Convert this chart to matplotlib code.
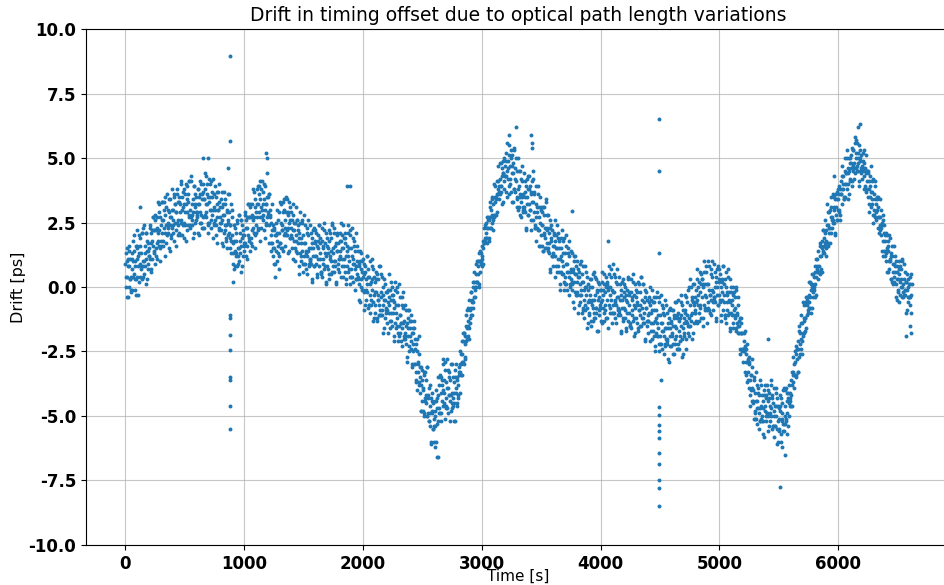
import numpy as np
import matplotlib
matplotlib.use("Agg")
import matplotlib.pyplot as plt

plt.rcParams["axes.unicode_minus"] = False

# Drift readings [ps].
# Series A: one reading every 5 s starting at t = 0 s.
# Series B: one reading every 5 s starting at t = 2.5 s.
SAMPLE_STEP_S = 5.0
OFFSET_B_S = 2.5

drift_a_0000_1000 = [
    0.9, 0.0, 1.5, 0.4, 1.1, -0.4, 0.8, 1.4, 0.3, 0.4,
    -0.1, 1.1, 0.7, 1.8, 0.5, 1.4, -0.1, 1.0, 0.3, 1.6,
    1.5, 0.8, -0.3, 1.3, 1.9, 0.4, 1.3, 0.8, 2.1, 0.4,
    0.8, 2.4, 0.5, 1.3, 1.1, 2.1, 0.3, 1.8, 1.4, 0.9,
    1.2, 1.1, 2.3, 1.7, 0.6, 2.2, 1.6, 2.7, 1.3, 2.2,
    2.8, 1.5, 2.2, 1.1, 2.7, 1.8, 3.2, 2.2, 2.7, 1.5,
    1.6, 3.3, 2.1, 2.6, 1.8, 3.3, 2.8, 1.2, 2.4, 3.1,
    2.0, 2.5, 3.0, 1.5, 3.4, 2.4, 2.7, 1.9, 3.8, 2.3,
    3.0, 2.1, 3.6, 2.5, 3.2, 1.6, 2.9, 3.6, 2.4, 2.6,
    2.1, 3.3, 2.9, 4.0, 2.6, 3.5, 2.0, 3.1, 2.5, 3.8,
    3.6, 2.9, 1.8, 3.4, 3.9, 2.4, 3.3, 2.8, 4.1, 2.4,
    2.7, 4.3, 2.4, 3.2, 2.9, 3.9, 2.1, 3.6, 3.1, 2.6,
    2.8, 2.7, 3.8, 3.2, 2.0, 3.6, 2.9, 4.0, 2.5, 3.4,
    4.0, 2.7, 3.4, 2.3, 3.8, 2.9, 4.3, 3.2, 3.6, 2.4,
    2.5, 4.2, 3.0, 3.5, 2.6, 4.1, 3.5, 1.9, 3.0, 3.6,
    2.5, 3.0, 3.5, 2.0, 3.7, 2.7, 3.0, 2.2, 4.0, 2.5,
    3.1, 2.2, 3.7, 2.6, 3.2, 1.6, 2.8, 3.4, 2.2, 2.4,
    1.8, 3.0, 2.5, 3.6, 2.1, 2.9, 1.5, 2.4, 1.8, 3.0,
    2.0, 1.3, 0.2, 1.8, 2.3, 0.8, 1.8, 1.3, 2.5, 0.9,
    1.2, 2.8, 1.0, 1.8, 1.6, 2.6, 0.8, 2.4, 2.0, 1.4,
]

drift_a_1000_2000 = [
    1.7, 1.7, 2.8, 2.3, 1.1, 2.7, 2.0, 3.2, 1.8, 2.7,
    3.2, 1.9, 2.7, 1.6, 3.2, 2.3, 3.7, 2.7, 3.1, 2.0,
    2.1, 3.8, 2.7, 3.2, 2.3, 3.9, 3.4, 1.8, 3.1, 3.8,
    2.7, 3.2, 3.7, 2.2, 4.0, 3.0, 3.2, 2.4, 4.4, 2.7,
    3.5, 2.4, 3.6, 2.7, 2.8, 1.4, 2.0, 2.2, 1.5, 1.2,
    2.2, 1.5, 0.4, 2.0, 2.5, 1.0, 2.1, 1.6, 2.9, 1.2,
    1.7, 3.3, 1.5, 2.4, 2.2, 3.3, 1.4, 3.0, 2.6, 2.1,
    2.9, 2.0, 3.4, 2.3, 2.9, 1.4, 2.5, 3.1, 1.9, 2.0,
    1.5, 2.6, 2.2, 3.2, 1.8, 2.5, 1.0, 2.0, 1.4, 2.6,
    2.4, 1.7, 0.5, 2.1, 2.5, 1.0, 1.9, 1.4, 2.6, 0.9,
    1.2, 2.8, 0.9, 1.7, 1.3, 2.3, 0.5, 2.0, 1.4, 0.9,
    1.1, 1.0, 2.1, 1.5, 0.3, 1.9, 1.2, 2.3, 0.8, 1.7,
    2.2, 0.9, 1.6, 0.5, 2.0, 1.1, 2.4, 1.3, 1.7, 0.5,
    0.6, 2.3, 1.1, 1.6, 0.7, 2.2, 1.7, 0.1, 1.2, 1.9,
    0.8, 1.3, 1.8, 0.3, 2.1, 1.1, 1.4, 0.5, 2.5, 0.8,
    1.5, 0.6, 2.1, 1.0, 1.7, 0.2, 1.4, 2.0, 0.9, 1.1,
    0.6, 1.8, 1.4, 2.5, 1.1, 2.0, 0.4, 1.5, 0.8, 2.1,
    1.9, 1.2, 0.1, 1.6, 2.1, 0.6, 1.5, 1.0, 2.2, 0.4,
    0.7, 2.3, 0.4, 1.1, 0.9, 1.8, -0.1, 1.4, 0.8, 0.3,
    0.5, 0.4, 1.4, 0.8, -0.5, 1.0, 0.3, 1.3, -0.1, 0.6,
]

drift_a_2000_3000 = [
    1.1, -0.2, 0.5, -0.7, 0.8, -0.1, 1.2, 0.1, 0.4, -0.8,
    -0.7, 1.0, -0.3, 0.2, -0.7, 0.8, 0.3, -1.3, -0.3, 0.4,
    -0.7, -0.2, 0.3, -1.3, 0.5, -0.5, -0.3, -1.1, 0.8, -0.9,
    -0.2, -1.1, 0.4, -0.7, 0.0, -1.6, -0.5, 0.1, -1.0, -0.9,
    -1.4, -0.2, -0.6, 0.5, -1.0, -0.1, -1.6, -0.5, -1.3, 0.0,
    -0.3, -1.0, -2.1, -0.6, -0.1, -1.6, -0.7, -1.2, 0.0, -1.8,
    -1.5, 0.1, -1.8, -1.1, -1.4, -0.4, -2.3, -0.8, -1.4, -1.9,
    -1.8, -1.9, -0.9, -1.5, -2.7, -1.2, -1.9, -0.9, -2.5, -1.6,
    -1.1, -2.4, -1.8, -3.0, -1.6, -2.5, -1.3, -2.4, -2.0, -3.3,
    -3.7, -2.0, -3.3, -2.9, -3.8, -2.6, -3.1, -4.8, -3.8, -3.2,
    -4.4, -3.9, -3.4, -4.9, -3.3, -4.4, -4.2, -5.0, -3.1, -4.9,
    -4.3, -5.2, -3.8, -4.9, -4.3, -6.0, -4.9, -4.4, -5.5, -5.4,
    -6.0, -4.8, -5.0, -4.0, -5.3, -4.3, -6.6, -4.2, -4.9, -3.5,
    -3.4, -4.1, -5.2, -3.6, -3.0, -4.6, -3.6, -4.1, -2.9, -4.6,
    -4.3, -2.8, -4.7, -3.9, -4.2, -3.3, -5.2, -3.6, -4.2, -4.7,
    -4.5, -4.6, -3.5, -4.1, -5.2, -3.5, -4.1, -3.0, -4.5, -3.5,
    -4.3, -3.3, -3.4, -2.5, -3.3, -2.6, -3.4, -2.6, -2.9, -1.8,
    -1.8, -2.2, -2.8, -1.5, -1.1, -2.0, -1.3, -1.5, -0.5, -1.6,
    -1.2, -0.2, -1.1, -0.5, -0.6, 0.2, -0.8, 0.2, 0.0, -0.1,
    0.5, 0.0, 1.0, 0.5, 1.0, 0.1, 1.0, 1.4, 0.9, 1.0,
]

drift_a_3000_4000 = [
    0.8, 1.6, 1.5, 2.3, 1.7, 2.4, 1.9, 2.1, 1.9, 2.7,
    2.7, 2.3, 1.8, 2.7, 3.1, 2.3, 3.0, 2.8, 3.5, 2.6,
    2.8, 4.0, 2.8, 3.5, 3.5, 4.1, 2.9, 4.1, 3.8, 3.4,
    4.2, 3.6, 4.8, 3.9, 4.6, 3.3, 4.4, 5.0, 4.1, 4.3,
    3.7, 4.9, 4.5, 5.6, 4.2, 5.1, 3.6, 4.7, 4.0, 5.3,
    5.1, 4.4, 3.3, 4.8, 5.3, 3.8, 4.6, 4.1, 6.2, 3.4,
    3.5, 5.0, 3.1, 3.9, 3.6, 4.5, 2.7, 4.1, 3.5, 3.0,
    3.1, 3.0, 4.1, 3.5, 2.3, 3.9, 3.2, 4.3, 2.8, 3.8,
    4.3, 3.0, 3.7, 2.6, 4.1, 5.6, 4.5, 3.3, 3.6, 2.3,
    2.3, 3.9, 2.7, 3.1, 2.2, 3.6, 3.1, 1.6, 2.5, 3.1,
    2.0, 2.4, 2.9, 1.4, 3.1, 2.0, 2.3, 1.5, 3.4, 1.7,
    2.3, 1.4, 2.8, 1.7, 2.3, 0.7, 1.8, 2.4, 1.2, 1.3,
    0.8, 2.0, 1.6, 2.6, 1.2, 2.0, 0.6, 1.5, 0.8, 2.1,
    1.8, 1.1, -0.1, 1.5, 1.9, 0.5, 1.3, 0.8, 1.9, 0.2,
    0.4, 2.0, 0.1, 0.9, 0.6, 1.5, -0.3, 1.2, 0.6, 0.1,
    0.3, 0.2, 1.3, 0.6, -0.6, 1.0, 0.2, 1.2, -0.3, 0.5,
    1.0, -0.3, 0.4, -0.7, 0.6, -0.3, 0.9, -0.1, 0.2, -1.0,
    -0.9, 0.8, -0.5, 0.0, -0.9, 0.6, 0.0, -1.6, -0.6, 0.1,
    -1.0, -0.5, 0.0, -1.5, 0.3, -0.7, -0.5, -1.3, 0.6, -1.0,
    -0.3, -1.2, 0.3, -0.8, -0.1, -1.7, -0.5, 0.1, -0.9, -0.8,
]

drift_a_4000_5000 = [
    -1.3, -0.1, -0.5, 0.6, -0.8, 0.1, -1.3, -0.2, -0.9, 0.4,
    0.2, -0.5, -1.6, 0.0, 0.5, -1.0, 0.0, -0.5, 0.7, -1.0,
    -0.7, 0.9, -1.0, -0.2, -0.6, 0.4, -1.4, 0.1, -0.4, -0.9,
    -0.8, -1.0, 0.1, -0.5, -1.7, -0.1, -0.8, 0.3, -1.3, -0.4,
    0.1, -1.2, -0.5, -1.6, -0.1, -1.0, 0.4, -0.7, -0.3, -1.5,
    -1.4, 0.3, -0.9, -0.4, -1.3, 0.2, -0.3, -1.9, -0.8, -0.1,
    -1.2, -0.7, -0.2, -1.7, 0.1, -0.9, -0.7, -1.5, 0.4, -1.2,
    -0.5, -1.4, 0.1, -1.0, -0.4, -2.0, -0.8, -0.2, -1.3, -1.3,
    -1.8, -0.6, -1.0, 0.0, -1.4, -0.5, -2.0, -0.9, -1.7, -0.4,
    -0.6, -1.3, -2.5, -0.9, -0.4, -1.9, -1.1, -1.6, -0.4, -2.2,
    -1.9, -0.3, -2.2, -1.4, -1.7, -0.8, -2.6, -1.1, -1.6, -2.2,
    -2.0, -2.1, -1.0, -1.6, -2.8, -1.2, -1.9, -0.8, -2.3, -1.4,
    -0.9, -2.2, -1.5, -2.6, -1.1, -2.0, -0.6, -1.6, -1.2, -2.4,
    -2.2, -0.5, -1.7, -1.2, -2.1, -0.6, -1.1, -2.7, -1.6, -0.9,
    -1.9, -1.4, -0.9, -2.4, -0.4, -1.4, -1.1, -1.8, 0.0, -1.5,
    -0.7, -1.5, 0.0, -1.0, -0.4, -1.8, -0.6, 0.1, -1.0, -0.9,
    -1.3, -0.1, -0.5, 0.7, -0.7, 0.2, -1.3, -0.2, -0.8, 0.5,
    0.3, -0.4, -1.5, 0.1, 0.6, -0.9, 0.1, -0.4, 0.8, -0.9,
    -0.6, 1.0, -0.9, -0.1, -0.3, 0.7, -1.1, 0.4, -0.1, -0.6,
    -0.4, -0.5, 0.6, 0.0, -1.2, 0.4, -0.3, 0.8, -0.7, 0.2,
]

drift_a_5000_6000 = [
    0.7, -0.6, 0.0, -1.1, 0.3, -0.5, 0.8, -0.3, 0.1, -1.2,
    -1.1, 0.6, -0.6, -0.2, -1.1, 0.4, -0.2, -1.7, -0.6, 0.0,
    -1.0, -0.7, -0.3, -1.6, -0.2, -1.1, -0.8, -1.6, 0.0, -1.4,
    -1.0, -1.8, -0.7, -1.5, -1.2, -2.4, -1.8, -1.4, -2.4, -2.4,
    -2.9, -2.1, -2.5, -1.7, -2.9, -2.4, -3.7, -2.9, -3.6, -2.7,
    -2.9, -3.6, -4.6, -3.4, -3.1, -4.4, -4.0, -4.5, -3.6, -4.9,
    -4.8, -3.3, -5.1, -4.4, -4.7, -3.9, -5.5, -4.2, -4.7, -5.2,
    -5.1, -5.2, -4.2, -4.7, -5.7, -4.2, -4.8, -3.8, -5.0, -4.2,
    -3.8, -5.0, -4.4, -5.4, -4.1, -4.9, -3.6, -4.7, -4.3, -5.5,
    -5.4, -3.9, -5.0, -4.6, -5.4, -4.1, -4.6, -6.1, -5.2, -4.6,
    -5.6, -5.1, -4.6, -6.0, -4.3, -5.2, -4.9, -5.6, -3.9, -5.3,
    -4.6, -5.3, -3.9, -4.9, -4.1, -5.4, -4.3, -3.8, -4.6, -4.4,
    -4.6, -3.6, -3.8, -2.7, -3.7, -3.0, -3.4, -2.9, -3.4, -2.3,
    -2.4, -2.8, -3.3, -2.1, -1.7, -2.6, -1.8, -2.0, -1.1, -2.1,
    -1.8, -0.6, -1.8, -1.2, -1.2, -0.4, -1.6, -0.4, -0.7, -1.0,
    -0.3, -0.8, 0.2, -0.4, 0.1, -0.8, 0.1, 0.5, -0.2, -0.1,
    -0.4, 0.6, 0.4, 1.1, 0.6, 1.1, 0.6, 0.8, 0.6, 1.7,
    1.6, 1.2, 0.6, 1.8, 2.2, 1.4, 1.9, 1.7, 2.6, 1.5,
    1.8, 3.2, 1.6, 2.4, 2.1, 2.9, 1.7, 3.1, 2.7, 2.3,
    2.6, 2.5, 3.5, 3.0, 2.1, 3.4, 2.8, 3.7, 2.6, 3.4,
]

drift_a_6000_6620 = [
    3.8, 2.9, 3.6, 2.8, 4.1, 3.6, 4.7, 3.8, 4.0, 3.4,
    3.5, 5.0, 4.0, 4.4, 3.8, 5.0, 4.6, 3.4, 4.5, 5.0,
    4.2, 4.6, 5.1, 3.9, 5.3, 4.5, 4.8, 4.2, 5.8, 4.6,
    5.2, 4.5, 5.6, 4.8, 5.2, 4.1, 4.9, 5.3, 4.5, 4.6,
    4.2, 4.9, 4.6, 5.3, 4.3, 4.6, 3.7, 4.4, 3.8, 4.5,
    4.5, 3.8, 2.9, 3.9, 4.3, 3.1, 3.7, 3.4, 4.2, 2.8,
    3.0, 4.1, 2.7, 3.2, 2.9, 3.4, 2.3, 3.1, 2.7, 2.3,
    2.4, 2.2, 3.0, 2.4, 1.4, 2.6, 1.8, 2.4, 1.2, 1.8,
    2.1, 1.0, 1.5, 0.6, 1.8, 1.0, 2.0, 1.1, 1.2, 0.3,
    0.2, 1.6, 0.6, 0.9, 0.2, 1.2, 0.8, -0.4, 0.3, 0.8,
    -0.1, 0.3, 0.7, -0.6, 0.8, 0.0, 0.3, -0.4, 1.1, -0.2,
    0.3, -0.3, 0.6, -0.1, 0.2, -0.9, -0.1, 0.3, -0.4, -0.4,
    -0.7, 0.1, -0.3, 0.5,
]

drift_b_0000_1000 = [
    0.4, 1.3, -0.4, 1.0, 0.8, 0.0, 1.6, 0.3, 1.1, -0.2,
    1.3, -0.1, 1.0, 0.4, 2.0, 0.8, 0.3, 1.6, -0.3, 1.1,
    0.4, 1.2, 2.0, 0.2, 0.9, 1.6, 0.7, 2.1, 0.3, 1.0,
    2.3, 1.0, 0.8, 1.6, 0.1, 2.1, 1.4, 0.7, 1.7, 1.2,
    1.5, 2.4, 0.7, 2.1, 1.8, 1.1, 2.7, 1.4, 2.2, 0.9,
    2.6, 1.2, 2.3, 1.7, 3.3, 2.1, 1.6, 2.9, 1.0, 2.4,
    1.8, 2.6, 3.3, 1.6, 2.3, 3.0, 2.1, 3.5, 1.7, 2.4,
    3.6, 2.3, 2.1, 2.9, 1.4, 3.4, 2.7, 2.0, 3.0, 2.4,
    2.6, 3.5, 1.8, 3.2, 2.9, 2.2, 3.8, 2.5, 3.3, 2.0,
    3.5, 2.0, 3.2, 2.5, 4.1, 3.0, 2.4, 3.7, 1.9, 3.2,
    2.4, 3.2, 4.0, 2.2, 2.9, 3.6, 2.7, 4.1, 2.3, 3.0,
    4.1, 2.8, 2.6, 3.4, 1.9, 3.9, 3.2, 2.5, 3.5, 2.9,
    2.9, 3.8, 2.1, 3.5, 3.2, 2.5, 4.1, 2.8, 3.6, 2.3,
    3.7, 2.3, 3.4, 2.8, 4.4, 3.2, 2.7, 4.0, 2.1, 3.5,
    2.5, 3.3, 4.0, 2.3, 3.0, 3.7, 2.8, 4.2, 2.4, 3.1,
    3.9, 2.6, 2.4, 3.2, 1.7, 3.7, 3.0, 2.3, 3.3, 2.7,
    2.5, 3.4, 1.7, 3.1, 2.8, 2.1, 3.7, 2.4, 3.2, 1.9,
    2.9, 1.5, 2.6, 2.0, 3.6, 2.4, 1.9, 3.2, 1.3, 2.7,
    0.9, 1.7, 2.4, 0.7, 1.4, 2.1, 1.2, 2.6, 0.8, 1.5,
    2.8, 1.5, 1.3, 2.1, 0.6, 2.6, 1.9, 1.2, 2.2, 1.6,
]

drift_b_1000_2000 = [
    2.0, 2.9, 1.2, 2.6, 2.3, 1.6, 3.2, 1.9, 2.7, 1.4,
    3.1, 1.7, 2.8, 2.2, 3.8, 2.6, 2.1, 3.4, 1.5, 2.9,
    2.4, 3.2, 3.9, 2.2, 2.9, 3.6, 2.7, 4.1, 2.3, 3.0,
    4.1, 2.8, 2.6, 3.4, 1.9, 3.9, 3.2, 2.5, 3.5, 2.9,
    2.8, 3.6, 1.7, 3.0, 2.5, 1.7, 3.2, 1.7, 2.4, 0.9,
    2.3, 0.9, 2.0, 1.4, 3.0, 1.8, 1.3, 2.6, 0.7, 2.1,
    1.7, 2.5, 3.2, 1.5, 2.2, 2.9, 2.0, 3.4, 1.6, 2.3,
    3.5, 2.2, 2.0, 2.8, 1.3, 3.3, 2.6, 1.9, 2.9, 2.3,
    1.9, 2.8, 1.1, 2.5, 2.2, 1.5, 3.1, 1.8, 2.6, 1.3,
    2.2, 0.8, 1.9, 1.3, 2.9, 1.7, 1.2, 2.5, 0.6, 2.0,
    0.9, 1.7, 2.4, 0.7, 1.4, 2.1, 1.2, 2.6, 0.8, 1.5,
    2.4, 1.1, 0.9, 1.7, 0.2, 2.2, 1.5, 0.8, 1.8, 1.2,
    1.2, 2.1, 0.4, 1.8, 1.5, 0.8, 2.4, 1.1, 1.9, 0.6,
    1.8, 0.4, 1.5, 0.9, 2.5, 1.3, 0.8, 2.1, 0.2, 1.6,
    0.7, 1.5, 2.2, 0.5, 1.2, 1.9, 1.0, 2.4, 0.6, 1.3,
    2.3, 1.0, 0.8, 1.6, 0.1, 2.1, 1.4, 0.7, 1.7, 1.1,
    1.2, 2.1, 0.4, 1.8, 1.5, 0.8, 2.4, 1.1, 1.9, 0.6,
    1.7, 0.3, 1.4, 0.8, 2.4, 1.2, 0.7, 2.0, 0.1, 1.5,
    0.4, 1.2, 1.9, 0.2, 0.9, 1.6, 0.7, 2.1, 0.3, 1.0,
    1.6, 0.3, 0.1, 0.9, -0.6, 1.4, 0.7, 0.0, 1.0, 0.4,
]

drift_b_2000_3000 = [
    -0.1, 0.9, -0.9, 0.6, 0.3, -0.5, 1.2, -0.2, 0.7, -0.7,
    0.4, -1.0, 0.1, -0.5, 1.1, -0.1, -0.6, 0.7, -1.2, 0.2,
    -1.0, -0.2, 0.6, -1.2, -0.5, 0.3, -0.7, 0.8, -1.1, -0.4,
    0.5, -0.9, -1.1, -0.3, -1.8, 0.3, -0.5, -1.2, -0.2, -0.8,
    -0.9, -0.1, -1.8, -0.4, -0.7, -1.3, 0.2, -1.0, -0.3, -1.5,
    -0.5, -1.9, -0.8, -1.4, 0.2, -1.0, -1.5, -0.2, -2.1, -0.7,
    -1.9, -1.1, -0.4, -2.1, -1.4, -0.7, -1.6, -0.2, -2.0, -1.3,
    -0.7, -2.0, -2.2, -1.4, -2.9, -0.9, -1.6, -2.3, -1.3, -1.9,
    -2.1, -1.3, -3.1, -1.8, -2.2, -3.0, -1.6, -3.0, -2.2, -3.6,
    -2.5, -4.0, -3.0, -3.7, -1.9, -3.5, -4.1, -3.1, -4.8, -3.6,
    -4.8, -4.0, -3.3, -5.0, -4.3, -3.6, -4.5, -3.1, -5.0, -4.2,
    -3.9, -5.2, -5.4, -4.6, -6.1, -4.1, -4.8, -5.5, -4.5, -5.1,
    -5.4, -4.4, -6.0, -4.4, -4.7, -5.2, -3.5, -4.7, -3.8, -4.9,
    -3.5, -4.9, -3.8, -4.4, -2.8, -4.0, -4.5, -3.2, -5.1, -3.7,
    -4.7, -3.9, -3.2, -4.9, -4.2, -3.5, -4.4, -3.0, -4.8, -4.1,
    -3.0, -4.3, -4.5, -3.7, -5.2, -3.2, -3.9, -4.6, -3.6, -4.2,
    -3.8, -3.1, -4.1, -3.0, -3.0, -3.4, -2.1, -2.9, -2.1, -3.0,
    -1.8, -2.7, -1.9, -2.1, -0.9, -1.6, -1.9, -0.8, -2.0, -0.9,
    -1.4, -0.8, -0.2, -1.1, -0.6, 0.0, -0.4, 0.6, -0.4, 0.2,
    0.9, 0.2, 0.2, 0.8, 0.0, 1.3, 1.0, 0.6, 1.3, 1.1,
]

drift_b_3000_4000 = [
    1.2, 1.8, 0.9, 1.8, 1.7, 1.8, 2.5, 1.9, 2.3, 1.7,
    2.6, 1.9, 2.6, 2.3, 3.3, 2.7, 2.5, 3.4, 2.2, 3.2,
    2.7, 3.3, 3.9, 2.8, 3.4, 3.6, 3.6, 4.7, 3.7, 3.9,
    4.8, 3.9, 3.7, 4.3, 3.2, 4.9, 4.4, 3.8, 4.7, 4.3,
    4.3, 5.2, 3.5, 4.9, 4.6, 3.9, 5.5, 4.2, 5.0, 3.7,
    4.7, 3.3, 4.4, 3.8, 5.4, 4.2, 3.7, 5.0, 3.1, 4.5,
    3.0, 3.8, 4.5, 2.8, 3.5, 4.2, 3.3, 4.7, 2.9, 3.6,
    4.4, 3.1, 2.9, 3.7, 2.2, 4.2, 3.5, 2.8, 3.8, 3.2,
    3.0, 3.9, 2.2, 3.6, 3.3, 2.6, 4.2, 2.9, 3.7, 2.4,
    3.2, 1.8, 2.9, 2.3, 3.9, 2.7, 2.2, 3.5, 1.6, 3.0,
    1.6, 2.4, 3.1, 1.4, 2.1, 2.8, 1.9, 3.3, 1.5, 2.2,
    2.8, 1.5, 1.3, 2.1, 0.6, 2.6, 1.9, 1.2, 2.2, 1.6,
    1.2, 2.1, 0.4, 1.8, 1.5, 0.8, 2.4, 1.1, 1.9, 0.6,
    1.5, 0.1, 1.2, 0.6, 2.2, 1.0, 0.5, 1.8, -0.1, 1.3,
    0.1, 0.9, 1.6, -0.1, 0.6, 1.3, 0.4, 1.8, 0.0, 0.7,
    1.4, 0.1, -0.1, 0.7, -0.8, 1.2, 0.5, -0.2, 0.8, 0.2,
    -0.2, 0.7, -1.0, 0.4, 0.1, -0.6, 1.0, -0.3, 0.5, -0.8,
    0.2, -1.2, -0.1, -0.7, 0.8, -0.3, -0.8, 0.4, -1.4, -0.1,
    -1.1, -0.3, 0.3, -1.3, -0.6, 0.0, -0.8, 0.5, -1.2, -0.5,
    0.4, -0.8, -1.0, -0.2, -1.7, 0.2, -0.4, -1.1, -0.1, -0.7,
]

drift_b_4000_5000 = [
    -0.6, 0.2, -1.4, -0.1, -0.3, -1.0, 0.5, -0.7, 0.0, -1.2,
    0.1, -1.2, -0.1, -0.7, 0.8, -0.3, -0.8, 0.4, -1.4, -0.1,
    -1.0, -0.2, 0.5, -1.2, -0.5, 0.2, -0.7, 0.7, -1.1, -0.4,
    0.4, -0.9, -1.1, -0.3, -1.8, 0.2, -0.5, -1.2, -0.2, -0.8,
    -0.9, 0.0, -1.7, -0.3, -0.6, -1.3, 0.3, -1.0, -0.2, -1.5,
    -0.2, -1.6, -0.5, -1.1, 0.5, -0.7, -1.2, 0.1, -1.8, -0.4,
    -1.4, -0.6, 0.2, -1.6, -0.9, -0.2, -1.1, 0.4, -1.5, -0.8,
    0.1, -1.2, -1.4, -0.6, -2.1, -0.1, -0.8, -1.5, -0.5, -1.1,
    -1.3, -0.4, -2.1, -0.7, -1.0, -1.7, -0.1, -1.4, -0.6, -1.9,
    -0.9, -2.3, -1.2, -1.8, -0.2, -1.4, -1.9, -0.6, -2.5, -1.1,
    -2.2, -1.4, -0.7, -2.4, -1.7, -1.0, -1.9, -0.5, -2.3, -1.6,
    -0.7, -2.0, -2.2, -1.4, -2.9, -0.9, -1.6, -2.3, -1.3, -1.9,
    -1.8, -0.9, -2.6, -1.2, -1.5, -2.2, -0.6, -1.9, -1.1, -2.4,
    -1.0, -2.4, -1.3, -1.9, -0.3, -1.5, -2.0, -0.7, -2.6, -1.2,
    -1.8, -1.0, -0.3, -2.0, -1.3, -0.6, -1.5, -0.1, -1.9, -1.2,
    0.3, -1.1, -1.3, -0.5, -2.0, 0.1, -0.7, -1.4, -0.4, -1.0,
    -0.6, 0.3, -1.4, 0.0, -0.3, -1.0, 0.6, -0.7, 0.1, -1.2,
    0.3, -1.2, 0.0, -0.7, 1.0, -0.3, -0.8, 0.6, -1.4, 0.1,
    -0.8, 0.1, 0.8, -1.0, -0.3, 0.5, -0.5, 1.0, -0.9, -0.2,
    0.9, -0.4, -0.6, 0.2, -1.3, 0.7, 0.0, -0.7, 0.3, -0.3,
]

drift_b_5000_6000 = [
    -0.5, 0.5, -1.3, 0.2, -0.2, -0.9, 0.8, -0.6, 0.3, -1.1,
    0.0, -1.4, -0.3, -0.9, 0.7, -0.5, -1.0, 0.3, -1.6, -0.2,
    -1.1, -0.5, 0.0, -1.4, -0.9, -0.4, -1.2, -0.1, -1.7, -1.1,
    -0.4, -1.5, -1.8, -1.3, -2.6, -1.2, -1.8, -2.5, -1.8, -2.4,
    -2.5, -1.8, -3.3, -2.3, -2.6, -3.4, -2.2, -3.3, -2.8, -3.9,
    -3.0, -4.2, -3.4, -4.0, -2.8, -3.9, -4.4, -3.5, -5.1, -4.1,
    -5.1, -4.4, -3.8, -5.3, -4.7, -4.1, -4.9, -3.6, -5.2, -4.6,
    -3.8, -5.0, -5.2, -4.4, -5.8, -4.0, -4.6, -5.2, -4.3, -4.9,
    -4.9, -4.0, -5.6, -4.3, -4.6, -5.2, -3.8, -5.0, -4.2, -5.4,
    -4.5, -5.8, -4.8, -5.4, -3.9, -5.0, -5.5, -4.3, -6.0, -4.7,
    -5.5, -4.8, -4.2, -5.7, -5.1, -4.5, -5.3, -4.0, -5.6, -5.0,
    -4.0, -5.1, -5.2, -4.4, -5.7, -4.1, -4.5, -5.0, -4.1, -4.3,
    -4.2, -3.3, -4.6, -3.3, -3.4, -3.9, -2.5, -3.4, -2.6, -3.5,
    -2.4, -3.3, -2.4, -2.7, -1.5, -2.2, -2.4, -1.4, -2.6, -1.4,
    -1.9, -1.3, -0.7, -1.7, -1.2, -0.6, -1.1, -0.5, -0.9, -0.6,
    0.2, -0.6, -0.8, -0.1, -1.0, 0.5, 0.0, -0.4, 0.4, 0.0,
    0.1, 0.8, -0.3, 0.8, 0.7, 0.3, 1.4, 0.6, 1.2, 0.5,
    1.6, 0.7, 1.5, 1.3, 2.2, 1.6, 1.3, 2.1, 1.2, 2.2,
    1.6, 2.4, 2.9, 1.7, 2.3, 3.0, 2.3, 3.5, 2.1, 2.7,
    3.6, 2.6, 2.5, 3.1, 2.0, 3.6, 3.1, 2.6, 3.4, 3.0,
]

drift_b_6000_6620 = [
    3.0, 3.9, 2.6, 3.8, 3.6, 3.2, 4.3, 3.8, 4.3, 3.4,
    4.5, 3.5, 4.4, 4.0, 5.3, 4.4, 4.0, 5.0, 3.6, 4.8,
    4.1, 4.8, 5.4, 4.1, 4.7, 5.3, 4.6, 5.6, 4.4, 5.0,
    5.7, 4.7, 4.5, 5.0, 3.9, 5.5, 5.0, 4.4, 5.1, 4.7,
    4.5, 5.2, 3.8, 4.8, 4.5, 3.9, 5.1, 4.1, 4.5, 3.5,
    4.4, 3.2, 4.1, 3.5, 4.7, 3.7, 3.2, 4.1, 2.5, 3.6,
    2.8, 3.4, 3.9, 2.6, 3.0, 3.5, 2.7, 3.5, 2.1, 2.7,
    3.4, 2.3, 2.0, 2.5, 1.2, 2.8, 2.1, 1.4, 2.0, 1.4,
    1.3, 2.0, 0.6, 1.6, 1.4, 0.7, 1.9, 1.0, 1.3, 0.3,
    1.2, 0.1, 0.9, 0.4, 1.6, 0.6, 0.1, 1.0, -0.5, 0.6,
    -0.2, 0.5, 1.0, -0.3, 0.2, 0.7, 0.0, 1.0, -0.4, 0.1,
    0.9, -0.1, -0.3, 0.2, -1.0, 0.5, 0.0, -0.6, 0.1, -0.4,
    -0.4, 0.4, -1.0, 0.1,
]

# Isolated glitches and stray readings (time [s], drift [ps])
glitch_time = [880, 878, 882, 882, 884, 880, 881, 882, 879, 883,
               4492, 4490, 4491, 4510, 4494, 4493, 4494, 4492, 4492, 4494,
               4493, 4491, 4493, 4491,
               5513, 5555, 5530, 3760, 1180, 1190, 6610, 6600, 6570, 5960,
               6180, 6170, 3230, 3410, 3420, 860, 650, 700, 120, 100,
               2620, 2610, 1865, 1890, 5412, 4059]
glitch_drift = [8.95, 5.65, -1.1, -1.2, -1.85, -2.45, -3.5, -3.6, -4.6, -5.5,
                6.5, 4.5, 1.3, -3.6, -4.65, -4.95, -5.35, -5.6, -5.85, -6.45,
                -6.85, -7.5, -7.8, -8.5,
                -7.75, -6.5, -6.2, 2.95, 5.2, 5.0, -1.8, -1.5, -1.9, 4.3,
                6.3, 6.2, 5.9, 5.9, 5.4, 4.6, 5.0, 5.0, 3.1, 2.2,
                -6.6, -6.2, 3.9, 3.9, -2.0, 1.8]

drift_a = np.concatenate([drift_a_0000_1000, drift_a_1000_2000, drift_a_2000_3000,
                          drift_a_3000_4000, drift_a_4000_5000, drift_a_5000_6000,
                          drift_a_6000_6620])
drift_b = np.concatenate([drift_b_0000_1000, drift_b_1000_2000, drift_b_2000_3000,
                          drift_b_3000_4000, drift_b_4000_5000, drift_b_5000_6000,
                          drift_b_6000_6620])
time_a = np.arange(drift_a.size) * SAMPLE_STEP_S
time_b = np.arange(drift_b.size) * SAMPLE_STEP_S + OFFSET_B_S

fig = plt.figure(figsize=(9.44, 5.85), dpi=100)
ax = fig.add_axes([0.0911, 0.0684, 0.9163, 0.882])
ax.scatter(np.concatenate([time_a, time_b, glitch_time]),
           np.concatenate([drift_a, drift_b, glitch_drift]),
           s=8, color="#1f77b4", linewidths=0)
ax.set_ylim(-10, 10)
ax.set_yticks(np.arange(-10, 10.01, 2.5))
ax.grid(True, color="#b0b0b0", linewidth=0.8, alpha=0.7)
ax.set_axisbelow(True)
for lab in ax.get_xticklabels() + ax.get_yticklabels():
    lab.set_fontweight("bold")
    lab.set_fontsize(12)
ax.set_title("Drift in timing offset due to optical path length variations",
             fontsize=13.5)
ax.set_xlabel("Time [s]", fontsize=11, labelpad=-3)
ax.set_ylabel("Drift [ps]", fontsize=11.5, labelpad=1.5)

fig.savefig("out.png", dpi=100)
